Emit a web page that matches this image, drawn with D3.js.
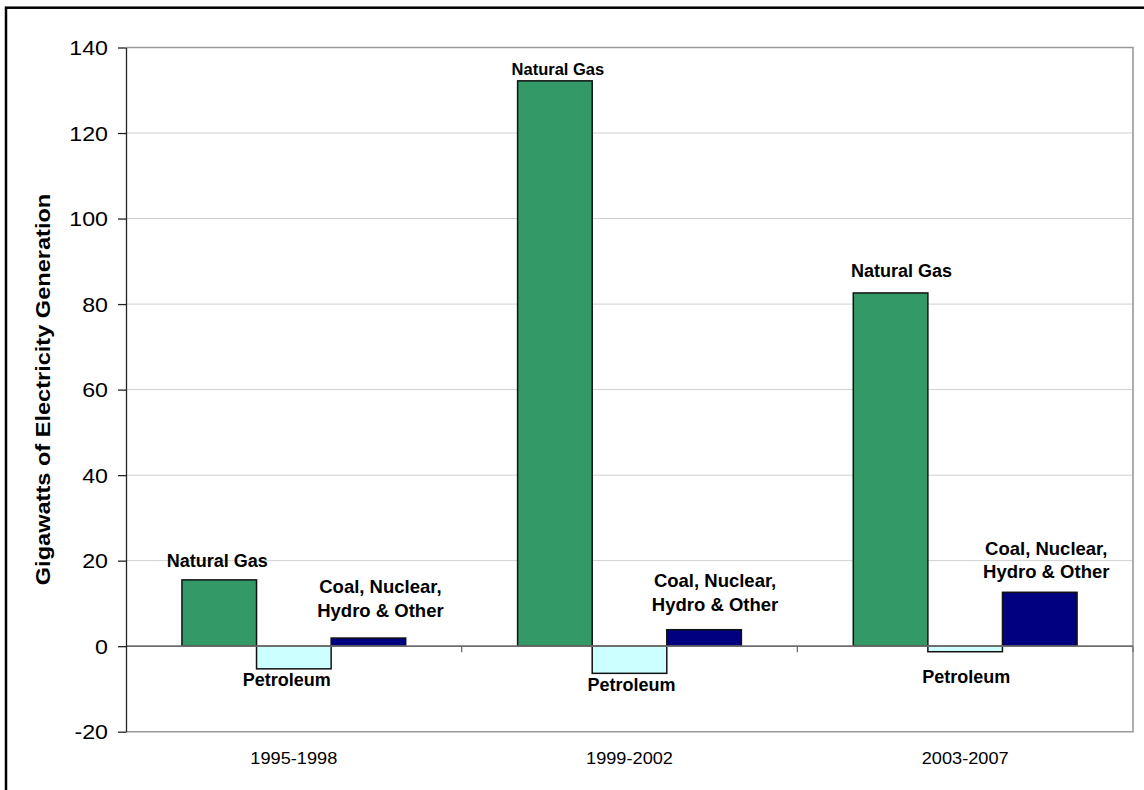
<!DOCTYPE html>
<html>
<head>
<meta charset="utf-8">
<script src="https://cdn.jsdelivr.net/npm/d3@7"></script>
<style>
  html, body { margin: 0; padding: 0; background: #fff; }
  svg { display: block; font-family: "Liberation Sans", Arial, Helvetica, sans-serif; }
</style>
</head>
<body>
<svg id="chart" width="1144" height="790"></svg>
<script>
// ---- data ----
const categories = ["1995-1998", "1999-2002", "2003-2007"];
const seriesNames = ["Natural Gas", "Petroleum", "Coal, Nuclear, Hydro & Other"];
const naturalGas = [15.5, 132.2, 82.6];
const petroleum = [-5.3, -6.35, -1.3];
const coalNuclearHydroOther = [1.9, 3.85, 12.6];
const yTickValues = [-20, 0, 20, 40, 60, 80, 100, 120, 140];
const yTitle = "Gigawatts of Electricity Generation";

// ---- layout / styles ----
const W = 1144, H = 790;
const plot = { left: 126, right: 1133, top: 47.5, bottom: 731.7 };
const colors = { "Natural Gas": "#339966", "Petroleum": "#CCFFFF", "Coal, Nuclear, Hydro & Other": "#000080" };

// label annotations: [seriesIndex, categoryIndex, lines, fontSize, dx, dy, lineGap]
const labelSpecs = [
  [0, 0, ["Natural Gas"], 18, -2, -13, 0],
  [0, 1, ["Natural Gas"], 16.5, 3, -6, 0],
  [0, 2, ["Natural Gas"], 18, 11, -16, 0],
  [1, 0, ["Petroleum"], 18, -7, 17, 0],
  [1, 1, ["Petroleum"], 18, 2, 17.7, 0],
  [1, 2, ["Petroleum"], 18, 1, 31.6, 0],
  [2, 0, ["Coal, Nuclear,", "Hydro & Other"], 18.5, 12, -44.7, 23.4],
  [2, 1, ["Coal, Nuclear,", "Hydro & Other"], 18.5, 11, -43, 24],
  [2, 2, ["Coal, Nuclear,", "Hydro & Other"], 18.5, 6.5, -37, 22.7]
];

const seriesValues = [naturalGas, petroleum, coalNuclearHydroOther];

const svg = d3.select("#chart");
svg.append("rect").attr("width", W).attr("height", H).attr("fill", "#fff");

// outer frame
svg.append("rect")
  .attr("x", 6).attr("y", 7.7).attr("width", 1300).attr("height", 1000)
  .attr("fill", "none").attr("stroke", "#000").attr("stroke-width", 2.5);

const x0 = d3.scaleBand().domain(categories).range([plot.left, plot.right]).paddingInner(0).paddingOuter(0);
const x1 = d3.scaleBand().domain(seriesNames).range([0, x0.bandwidth()]).paddingInner(0).paddingOuter(0.75);
const y = d3.scaleLinear().domain([-20, 140]).range([plot.bottom, plot.top]);

// gridlines
svg.append("g").selectAll("line")
  .data(yTickValues.filter(v => v > 0 && v < 140))
  .join("line")
  .attr("x1", plot.left).attr("x2", plot.right)
  .attr("y1", d => y(d)).attr("y2", d => y(d))
  .attr("stroke", "#d0d0d0").attr("stroke-width", 1);

// plot border (top, right, bottom)
svg.append("path")
  .attr("d", `M${plot.left},${y(140)}H${plot.right}V${y(-20)}H${plot.left}`)
  .attr("fill", "none").attr("stroke", "#9a9a9a").attr("stroke-width", 1.6);

// bars
const rows = [];
seriesNames.forEach((s, si) => categories.forEach((c, ci) => rows.push({ s, si, c, ci, v: seriesValues[si][ci] })));
svg.append("g").selectAll("rect")
  .data(rows)
  .join("rect")
  .attr("x", d => x0(d.c) + x1(d.s))
  .attr("width", x1.bandwidth())
  .attr("y", d => y(Math.max(0, d.v)))
  .attr("height", d => Math.abs(y(d.v) - y(0)))
  .attr("fill", d => colors[d.s])
  .attr("stroke", "#111").attr("stroke-width", 1.5);

// zero line
svg.append("line")
  .attr("x1", plot.left).attr("x2", plot.right)
  .attr("y1", y(0)).attr("y2", y(0))
  .attr("stroke", "#6e6e6e").attr("stroke-width", 1.8);

// x tick marks at category boundaries on zero line
const boundaries = categories.map(c => x0(c) + x0.bandwidth());
svg.append("g").selectAll("line")
  .data(boundaries)
  .join("line")
  .attr("x1", d => d).attr("x2", d => d)
  .attr("y1", y(0)).attr("y2", y(0) + 6)
  .attr("stroke", "#6e6e6e").attr("stroke-width", 1.3);

// y axis
const yAxis = d3.axisLeft(y).tickValues(yTickValues).tickSize(8).tickSizeOuter(0).tickFormat(d => String(d));
const gy = svg.append("g").attr("transform", `translate(${plot.left},0)`).call(yAxis);
gy.select(".domain").attr("stroke", "#222").attr("stroke-width", 1.3);
gy.selectAll(".tick line").attr("stroke", "#222").attr("stroke-width", 1.3);
const sxTick = 1.16;
gy.selectAll(".tick text")
  .attr("font-family", "'Liberation Sans', Arial, sans-serif")
  .attr("font-size", 20)
  .attr("fill", "#000")
  .attr("x", -18 / sxTick)
  .attr("dy", "0.35em")
  .attr("transform", `scale(${sxTick},1)`);

// category labels
const sxCat = 1.07;
svg.append("g").selectAll("text")
  .data(categories)
  .join("text")
  .attr("transform", d => `translate(${x0(d) + x0.bandwidth() / 2},764) scale(${sxCat},1)`)
  .attr("text-anchor", "middle")
  .attr("font-size", 17)
  .attr("fill", "#000")
  .text(d => d);

// y title
svg.append("text")
  .attr("transform", `translate(49.5,${(194 + 585) / 2}) rotate(-90) scale(1.15,1)`)
  .attr("text-anchor", "middle")
  .attr("font-size", 20.5)
  .attr("font-weight", "bold")
  .attr("fill", "#000")
  .text(yTitle);

// bar labels
const lg = svg.append("g");
labelSpecs.forEach(([si, ci, lines, fs, dx, dy, gap]) => {
  const v = seriesValues[si][ci];
  const cx = x0(categories[ci]) + x1(seriesNames[si]) + x1.bandwidth() / 2 + dx;
  const by = y(v) + dy;
  const t = lg.append("text")
    .attr("text-anchor", "middle")
    .attr("font-size", fs)
    .attr("font-weight", "bold")
    .attr("fill", "#000");
  lines.forEach((ln, i) => {
    t.append("tspan").attr("x", cx).attr("y", by + i * gap).text(ln);
  });
});
</script>
</body>
</html>
